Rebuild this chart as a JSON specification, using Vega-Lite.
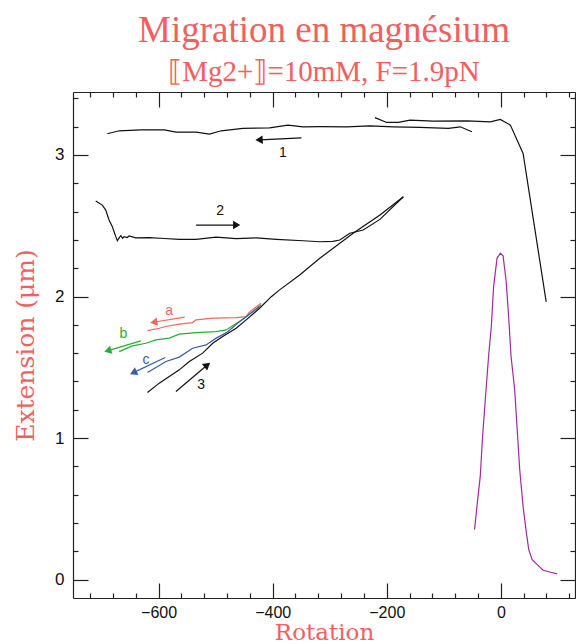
{
  "$schema": "https://vega.github.io/schema/vega-lite/v6.json",
  "width": 502,
  "height": 506,
  "autosize": {"type": "none"},
  "padding": {"left": 73, "top": 92, "right": 1, "bottom": 46},
  "background": "white",
  "title": {
    "text": "Migration en magnésium",
    "subtitle": "⟦Mg2+⟧=10mM,  F=1.9pN",
    "font": "Liberation Serif",
    "fontSize": 37,
    "fontWeight": "normal",
    "color": "#f06060",
    "subtitleFont": "Liberation Serif",
    "subtitleFontSize": 29,
    "subtitleColor": "#f06060",
    "subtitlePadding": 8,
    "offset": 3,
    "anchor": "middle"
  },
  "config": {
    "view": {"stroke": null},
    "axis": {
      "grid": false,
      "domainColor": "#222",
      "domainWidth": 1.2,
      "tickColor": "#222",
      "tickWidth": 1.2,
      "labelFont": "Liberation Sans",
      "labelFontSize": 16,
      "labelColor": "#111",
      "labelFlush": false,
      "labelOverlap": false,
      "titleFont": "DejaVu Serif",
      "titleFontSize": 23,
      "titleFontWeight": "normal",
      "titleColor": "#f06060"
    }
  },
  "datasets": {
    "curves": [
      {"s": "1b", "x": -689.8, "y": 3.150}, {"s": "1b", "x": -669.2, "y": 3.171}, {"s": "1b", "x": -631.0, "y": 3.178}, {"s": "1b", "x": -590.0, "y": 3.178}, {"s": "1b", "x": -569.5, "y": 3.162}, {"s": "1b", "x": -534.3, "y": 3.162}, {"s": "1b", "x": -510.9, "y": 3.147}, {"s": "1b", "x": -490.3, "y": 3.171}, {"s": "1b", "x": -452.3, "y": 3.188}, {"s": "1b", "x": -405.3, "y": 3.192}, {"s": "1b", "x": -373.2, "y": 3.211}, {"s": "1b", "x": -346.8, "y": 3.199}, {"s": "1b", "x": -317.4, "y": 3.200}, {"s": "1b", "x": -270.5, "y": 3.199}, {"s": "1b", "x": -229.5, "y": 3.206}, {"s": "1b", "x": -188.5, "y": 3.199}, {"s": "1b", "x": -141.6, "y": 3.195}, {"s": "1b", "x": -91.8, "y": 3.188}, {"s": "1b", "x": -71.2, "y": 3.199}, {"s": "1b", "x": -50.7, "y": 3.164},
      {"s": "1a", "x": -220.7, "y": 3.264}, {"s": "1a", "x": -200.1, "y": 3.230}, {"s": "1a", "x": -179.7, "y": 3.230}, {"s": "1a", "x": -159.2, "y": 3.246}, {"s": "1a", "x": -118.2, "y": 3.239}, {"s": "1a", "x": -59.4, "y": 3.241}, {"s": "1a", "x": -18.5, "y": 3.234}, {"s": "1a", "x": -0.9, "y": 3.251}, {"s": "1a", "x": 16.7, "y": 3.211}, {"s": "1a", "x": 39.0, "y": 3.011}, {"s": "1a", "x": 79.5, "y": 1.962},
      {"s": "2", "x": -710.2, "y": 2.675}, {"s": "2", "x": -698.6, "y": 2.646}, {"s": "2", "x": -692.6, "y": 2.611}, {"s": "2", "x": -686.8, "y": 2.541}, {"s": "2", "x": -681.0, "y": 2.493}, {"s": "2", "x": -675.0, "y": 2.423}, {"s": "2", "x": -672.2, "y": 2.395}, {"s": "2", "x": -668.5, "y": 2.418}, {"s": "2", "x": -666.2, "y": 2.430}, {"s": "2", "x": -663.0, "y": 2.412}, {"s": "2", "x": -660.4, "y": 2.423}, {"s": "2", "x": -655.0, "y": 2.417}, {"s": "2", "x": -651.6, "y": 2.428}, {"s": "2", "x": -640.0, "y": 2.414}, {"s": "2", "x": -616.4, "y": 2.416}, {"s": "2", "x": -590.0, "y": 2.410}, {"s": "2", "x": -563.7, "y": 2.404}, {"s": "2", "x": -534.3, "y": 2.404}, {"s": "2", "x": -499.1, "y": 2.419}, {"s": "2", "x": -464.0, "y": 2.409}, {"s": "2", "x": -428.8, "y": 2.414}, {"s": "2", "x": -393.6, "y": 2.404}, {"s": "2", "x": -346.8, "y": 2.394}, {"s": "2", "x": -317.4, "y": 2.387}, {"s": "2", "x": -294.6, "y": 2.390}, {"s": "2", "x": -282.3, "y": 2.399}, {"s": "2", "x": -264.7, "y": 2.447}, {"s": "2", "x": -241.3, "y": 2.470}, {"s": "2", "x": -212.0, "y": 2.545}, {"s": "2", "x": -170.9, "y": 2.705},
      {"s": "3", "x": -619.4, "y": 1.322}, {"s": "3", "x": -598.8, "y": 1.388}, {"s": "3", "x": -563.7, "y": 1.482}, {"s": "3", "x": -546.1, "y": 1.541}, {"s": "3", "x": -522.7, "y": 1.600}, {"s": "3", "x": -505.1, "y": 1.670}, {"s": "3", "x": -487.5, "y": 1.717}, {"s": "3", "x": -464.0, "y": 1.776}, {"s": "3", "x": -446.4, "y": 1.835}, {"s": "3", "x": -423.0, "y": 1.917}, {"s": "3", "x": -402.4, "y": 1.999}, {"s": "3", "x": -387.8, "y": 2.047}, {"s": "3", "x": -352.6, "y": 2.152}, {"s": "3", "x": -317.4, "y": 2.270}, {"s": "3", "x": -258.9, "y": 2.447}, {"s": "3", "x": -211.9, "y": 2.576}, {"s": "3", "x": -170.9, "y": 2.705},
      {"s": "a", "x": -420.0, "y": 1.953}, {"s": "a", "x": -440.6, "y": 1.891}, {"s": "a", "x": -446.4, "y": 1.858}, {"s": "a", "x": -464.0, "y": 1.851}, {"s": "a", "x": -505.1, "y": 1.847}, {"s": "a", "x": -534.3, "y": 1.835}, {"s": "a", "x": -540.3, "y": 1.816}, {"s": "a", "x": -563.7, "y": 1.805}, {"s": "a", "x": -587.1, "y": 1.788}, {"s": "a", "x": -598.8, "y": 1.776}, {"s": "a", "x": -619.4, "y": 1.759},
      {"s": "b", "x": -420.0, "y": 1.941}, {"s": "b", "x": -449.3, "y": 1.849}, {"s": "b", "x": -481.5, "y": 1.764}, {"s": "b", "x": -499.1, "y": 1.752}, {"s": "b", "x": -534.3, "y": 1.745}, {"s": "b", "x": -563.7, "y": 1.734}, {"s": "b", "x": -581.3, "y": 1.706}, {"s": "b", "x": -604.6, "y": 1.694}, {"s": "b", "x": -622.2, "y": 1.670}, {"s": "b", "x": -645.8, "y": 1.651}, {"s": "b", "x": -669.2, "y": 1.611},
      {"s": "c", "x": -423.0, "y": 1.929}, {"s": "c", "x": -458.2, "y": 1.821}, {"s": "c", "x": -481.5, "y": 1.743}, {"s": "c", "x": -499.1, "y": 1.706}, {"s": "c", "x": -516.7, "y": 1.658}, {"s": "c", "x": -540.3, "y": 1.635}, {"s": "c", "x": -563.7, "y": 1.572}, {"s": "c", "x": -587.1, "y": 1.541}, {"s": "c", "x": -604.6, "y": 1.498}, {"s": "c", "x": -619.4, "y": 1.463},
      {"s": "p", "x": -46.1, "y": 0.353}, {"s": "p", "x": -41.9, "y": 0.517}, {"s": "p", "x": -36.1, "y": 0.729}, {"s": "p", "x": -32.0, "y": 1.011}, {"s": "p", "x": -27.3, "y": 1.270}, {"s": "p", "x": -21.5, "y": 1.576}, {"s": "p", "x": -16.7, "y": 1.788}, {"s": "p", "x": -12.7, "y": 2.070}, {"s": "p", "x": -6.7, "y": 2.270}, {"s": "p", "x": -0.9, "y": 2.306}, {"s": "p", "x": 3.9, "y": 2.287}, {"s": "p", "x": 9.1, "y": 2.117}, {"s": "p", "x": 13.7, "y": 1.858}, {"s": "p", "x": 17.9, "y": 1.576}, {"s": "p", "x": 24.3, "y": 1.341}, {"s": "p", "x": 28.5, "y": 1.071}, {"s": "p", "x": 33.1, "y": 0.776}, {"s": "p", "x": 39.0, "y": 0.517}, {"s": "p", "x": 44.8, "y": 0.330}, {"s": "p", "x": 48.9, "y": 0.212}, {"s": "p", "x": 54.9, "y": 0.141}, {"s": "p", "x": 63.7, "y": 0.106}, {"s": "p", "x": 74.2, "y": 0.066}, {"s": "p", "x": 87.1, "y": 0.052}, {"s": "p", "x": 98.8, "y": 0.040}
    ],
    "arrows": [
      {"k": "1", "x": -349.6, "y": 3.121, "hx": -421.7, "hy": 3.107},
      {"k": "2", "x": -534.3, "y": 2.505, "hx": -465.2, "hy": 2.505},
      {"k": "3", "x": -569.5, "y": 1.329, "hx": -516.2, "hy": 1.511},
      {"k": "a", "x": -554.3, "y": 1.854, "hx": -606.4, "hy": 1.820},
      {"k": "b", "x": -631.0, "y": 1.687, "hx": -687.1, "hy": 1.619},
      {"k": "c", "x": -588.3, "y": 1.569, "hx": -642.3, "hy": 1.466}
    ],
    "labels": [
      {"k": "1", "x": -382.0, "y": 3.016},
      {"k": "2", "x": -492.1, "y": 2.606},
      {"k": "3", "x": -525.5, "y": 1.376},
      {"k": "a", "x": -581.3, "y": 1.900},
      {"k": "b", "x": -661.6, "y": 1.736},
      {"k": "c", "x": -622.2, "y": 1.553}
    ]
  },
  "resolve": {"scale": {"x": "shared", "y": "shared", "color": "independent"}, "axis": {"x": "independent", "y": "independent"}},
  "layer": [
    {
      "data": {"name": "curves"},
      "mark": {"type": "line", "strokeWidth": 1.2},
      "encoding": {
        "x": {"field": "x", "type": "quantitative", "scale": {"domain": [-750, 130], "nice": false, "zero": false},
          "axis": {"orient": "bottom", "values": [-600, -400, -200, 0], "tickSize": -15, "labelPadding": 21, "title": "Rotation", "titleY": 41, "titleBaseline": "alphabetic"}},
        "y": {"field": "y", "type": "quantitative", "scale": {"domain": [-0.13, 3.445], "nice": false, "zero": false},
          "axis": {"orient": "left", "values": [0, 1, 2, 3], "tickSize": -15, "labelPadding": 24, "title": "Extension (μm)", "titleX": -40, "titleBaseline": "alphabetic", "titleFontSize": 25, "labelFontSize": 17}},
        "detail": {"field": "s", "type": "nominal"},
        "color": {"field": "s", "type": "nominal", "legend": null,
          "scale": {"domain": ["1a", "1b", "2", "3", "a", "b", "c", "p"], "range": ["#111111", "#111111", "#111111", "#111111", "#f2665e", "#2aaa3a", "#3a5aaa", "#a02aa0"]}}
      }
    },
    {
      "data": {"name": "arrows"},
      "mark": {"type": "rule", "strokeWidth": 1.2},
      "encoding": {
        "x": {"field": "x", "type": "quantitative", "scale": {"domain": [-750, 130], "nice": false, "zero": false},
          "axis": {"orient": "top", "values": [-600, -400, -200, 0], "tickSize": -15, "labels": false, "title": null}},
        "y": {"field": "y", "type": "quantitative", "scale": {"domain": [-0.13, 3.445], "nice": false, "zero": false},
          "axis": {"orient": "right", "values": [0, 1, 2, 3], "tickSize": -15, "labels": false, "title": null}},
        "x2": {"field": "hx"},
        "y2": {"field": "hy"},
        "color": {"field": "k", "type": "nominal", "legend": null,
          "scale": {"domain": ["1", "2", "3", "a", "b", "c"], "range": ["#111111", "#111111", "#111111", "#f2665e", "#2aaa3a", "#3a5aaa"]}}
      }
    },
    {
      "data": {"name": "labels"},
      "mark": {"type": "text", "font": "Liberation Sans", "fontSize": 14, "align": "center", "baseline": "middle"},
      "encoding": {
        "x": {"field": "x", "type": "quantitative", "scale": {"domain": [-750, 130], "nice": false, "zero": false},
          "axis": {"orient": "bottom", "values": [-720, -680, -640, -560, -520, -480, -440, -360, -320, -280, -240, -160, -120, -80, -40, 40, 80, 120], "tickSize": -5, "labels": false, "title": null, "domain": false}},
        "y": {"field": "y", "type": "quantitative", "scale": {"domain": [-0.13, 3.445], "nice": false, "zero": false},
          "axis": {"orient": "left", "values": [0.2, 0.4, 0.6, 0.8, 1.2, 1.4, 1.6, 1.8, 2.2, 2.4, 2.6, 2.8, 3.2, 3.4], "tickSize": -5, "labels": false, "title": null, "domain": false}},
        "text": {"field": "k"},
        "color": {"field": "k", "type": "nominal", "legend": null,
          "scale": {"domain": ["1", "2", "3", "a", "b", "c"], "range": ["#111111", "#111111", "#111111", "#f2665e", "#2aaa3a", "#3a5aaa"]}}
      }
    },
    {
      "data": {"name": "arrows"},
      "transform": [{"filter": "datum.k == '1'"}],
      "mark": {"type": "point", "shape": "triangle", "filled": true, "size": 70, "angle": 267, "opacity": 1, "color": "#111111"},
      "encoding": {
        "x": {"field": "hx", "type": "quantitative", "scale": {"domain": [-750, 130], "nice": false, "zero": false},
          "axis": {"orient": "top", "values": [-720, -680, -640, -560, -520, -480, -440, -360, -320, -280, -240, -160, -120, -80, -40, 40, 80, 120], "tickSize": -5, "labels": false, "title": null, "domain": false}},
        "y": {"field": "hy", "type": "quantitative", "scale": {"domain": [-0.13, 3.445], "nice": false, "zero": false},
          "axis": {"orient": "right", "values": [0.2, 0.4, 0.6, 0.8, 1.2, 1.4, 1.6, 1.8, 2.2, 2.4, 2.6, 2.8, 3.2, 3.4], "tickSize": -5, "labels": false, "title": null, "domain": false}}
      }
    },
    {
      "data": {"name": "arrows"},
      "transform": [{"filter": "datum.k == '2'"}],
      "mark": {"type": "point", "shape": "triangle", "filled": true, "size": 70, "angle": 90, "opacity": 1, "color": "#111111"},
      "encoding": {
        "x": {"field": "hx", "type": "quantitative", "scale": {"domain": [-750, 130], "nice": false, "zero": false}, "axis": null},
        "y": {"field": "hy", "type": "quantitative", "scale": {"domain": [-0.13, 3.445], "nice": false, "zero": false}, "axis": null}
      }
    },
    {
      "data": {"name": "arrows"},
      "transform": [{"filter": "datum.k == '3'"}],
      "mark": {"type": "point", "shape": "triangle", "filled": true, "size": 70, "angle": 50, "opacity": 1, "color": "#111111"},
      "encoding": {
        "x": {"field": "hx", "type": "quantitative", "scale": {"domain": [-750, 130], "nice": false, "zero": false}, "axis": null},
        "y": {"field": "hy", "type": "quantitative", "scale": {"domain": [-0.13, 3.445], "nice": false, "zero": false}, "axis": null}
      }
    },
    {
      "data": {"name": "arrows"},
      "transform": [{"filter": "datum.k == 'a'"}],
      "mark": {"type": "point", "shape": "triangle", "filled": true, "size": 70, "angle": 261, "opacity": 1, "color": "#f2665e"},
      "encoding": {
        "x": {"field": "hx", "type": "quantitative", "scale": {"domain": [-750, 130], "nice": false, "zero": false}, "axis": null},
        "y": {"field": "hy", "type": "quantitative", "scale": {"domain": [-0.13, 3.445], "nice": false, "zero": false}, "axis": null}
      }
    },
    {
      "data": {"name": "arrows"},
      "transform": [{"filter": "datum.k == 'b'"}],
      "mark": {"type": "point", "shape": "triangle", "filled": true, "size": 70, "angle": 253, "opacity": 1, "color": "#2aaa3a"},
      "encoding": {
        "x": {"field": "hx", "type": "quantitative", "scale": {"domain": [-750, 130], "nice": false, "zero": false}, "axis": null},
        "y": {"field": "hy", "type": "quantitative", "scale": {"domain": [-0.13, 3.445], "nice": false, "zero": false}, "axis": null}
      }
    },
    {
      "data": {"name": "arrows"},
      "transform": [{"filter": "datum.k == 'c'"}],
      "mark": {"type": "point", "shape": "triangle", "filled": true, "size": 70, "angle": 245, "opacity": 1, "color": "#3a5aaa"},
      "encoding": {
        "x": {"field": "hx", "type": "quantitative", "scale": {"domain": [-750, 130], "nice": false, "zero": false}, "axis": null},
        "y": {"field": "hy", "type": "quantitative", "scale": {"domain": [-0.13, 3.445], "nice": false, "zero": false}, "axis": null}
      }
    }
  ]
}
